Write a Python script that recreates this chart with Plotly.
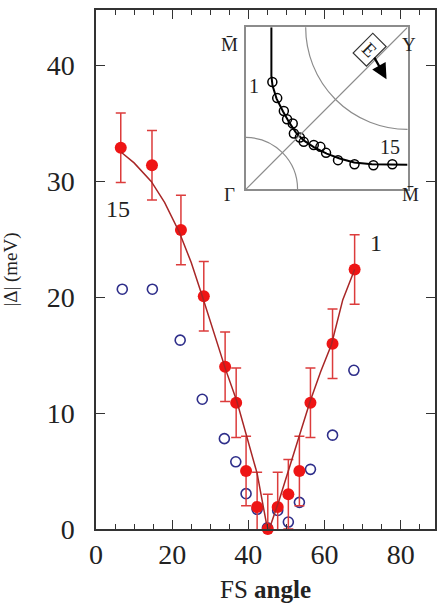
import plotly.graph_objects as go

# main panel: gap magnitude vs Fermi-surface angle (points 15 -> 1 from left to right)
fs_angle = [6.5, 14.7, 22.3, 28.3, 33.9, 36.8, 39.4, 42.3, 45.1, 47.7, 50.5, 53.4, 56.3, 62.1, 67.9]
gap = [32.9, 31.4, 25.8, 20.1, 14.0, 10.9, 5.0, 1.9, 0.0, 1.9, 3.0, 5.0, 10.9, 16.0, 22.4]
gap_err = [3, 3, 3, 3, 3, 3, 3, 3, 3, 3, 3, 3, 3, 3, 3]

open_angle = [6.9, 14.8, 22.1, 27.9, 33.7, 36.7, 39.4, 42.3, 45.0, 47.7, 50.5, 53.4, 56.3, 62.1, 67.7]
open_gap = [20.7, 20.7, 16.3, 11.2, 7.8, 5.8, 3.05, 1.7, 0.1, 1.6, 0.6, 2.3, 5.15, 8.1, 13.7]

# fitted curve
fit_angle = [6.7, 10, 14.5, 18, 21.9, 25, 28, 31, 34, 37, 40, 42.3, 44.9, 45.5, 48, 50.3, 53, 56.2, 59, 61.8, 64.8, 67.9]
fit_gap = [32.5, 31.6, 30.0, 28.2, 25.6, 23.0, 20.0, 16.9, 13.8, 11.0, 7.6, 4.8, 0.2, 0.0, 2.4, 4.8, 7.6, 11.0, 13.6, 15.9, 19.8, 22.4]

# inset: Fermi surface in the quadrant, normalised to [0, 1]
fs_u = [0.164, 0.194, 0.235, 0.255, 0.290, 0.297, 0.334, 0.358, 0.420, 0.461, 0.496, 0.570, 0.672, 0.789, 0.906]
fs_v = [0.662, 0.563, 0.483, 0.432, 0.406, 0.345, 0.320, 0.293, 0.273, 0.262, 0.225, 0.180, 0.155, 0.149, 0.155]
fs_line_u = [0.158, 0.158, 0.165, 0.19, 0.23, 0.27, 0.31, 0.36, 0.42, 0.50, 0.58, 0.67, 0.78, 0.90, 1.0]
fs_line_v = [1.0, 0.70, 0.64, 0.56, 0.48, 0.41, 0.35, 0.30, 0.26, 0.22, 0.19, 0.165, 0.155, 0.152, 0.152]

serif = "Liberation Serif, Times New Roman, serif"
red = "#ee1515"
ink = "#222222"

fig = go.Figure()
fig.add_trace(go.Scatter(
    x=open_angle, y=open_gap, mode="markers",
    marker=dict(symbol="circle-open", size=10, color="#2e2e8a", line=dict(width=1.6)),
    showlegend=False, cliponaxis=False,
))
fig.add_trace(go.Scatter(
    x=fs_angle, y=gap, mode="markers",
    marker=dict(symbol="circle", size=12, color=red),
    error_y=dict(type="data", array=gap_err, color="#dc3c3c", thickness=1.5, width=5),
    showlegend=False, cliponaxis=False,
))
fig.add_trace(go.Scatter(
    x=fit_angle, y=fit_gap, mode="lines",
    line=dict(color="#a82626", width=1.5),
    showlegend=False,
))

# inset traces
fig.add_trace(go.Scatter(
    x=fs_line_u, y=fs_line_v, mode="lines", xaxis="x2", yaxis="y2",
    line=dict(color="black", width=2), showlegend=False,
))
fig.add_trace(go.Scatter(
    x=fs_u, y=fs_v, mode="markers", xaxis="x2", yaxis="y2",
    marker=dict(symbol="circle-open", size=9, color="black", line=dict(width=1.5)),
    showlegend=False,
))

gray = "#8c8c8c"
shapes = [
    dict(type="line", xref="x2", yref="y2", x0=0, y0=0, x1=1, y1=1, line=dict(color=gray, width=1.2)),
    dict(type="circle", xref="x2", yref="y2", x0=0.37, y0=0.37, x1=1.63, y1=1.63, line=dict(color=gray, width=1.2)),
    dict(type="circle", xref="x2", yref="y2", x0=-0.32, y0=-0.32, x1=0.32, y1=0.32, line=dict(color=gray, width=1.2)),
]

lab = dict(size=24, family=serif, color=ink)
ins = dict(size=20, family=serif, color=ink)
corner = dict(size=19, family=serif, color=ink)
annotations = [
    dict(x=5.7, y=27.6, text="15", showarrow=False, font=lab),
    dict(x=73.4, y=24.7, text="1", showarrow=False, font=lab),
    dict(x=0.05, y=0.64, xref="x2", yref="y2", text="1", showarrow=False, font=ins),
    dict(x=0.89, y=0.26, xref="x2", yref="y2", text="15", showarrow=False, font=ins),
    dict(x=0.393, y=0.958, xref="paper", yref="paper", text="M\u0304", showarrow=False, font=corner),
    dict(x=0.950, y=0.958, xref="paper", yref="paper", text="Y", showarrow=False, font=corner),
    dict(x=0.393, y=0.645, xref="paper", yref="paper", text="\u0393", showarrow=False, font=corner),
    dict(x=0.958, y=0.645, xref="paper", yref="paper", text="M\u0304", showarrow=False, font=corner),
    dict(x=0.87, y=0.68, xref="x2", yref="y2", ax=0.765, ay=0.865, axref="x2", ayref="y2",
         text="E", textangle=45, showarrow=True, arrowhead=2, arrowsize=1.4, arrowwidth=2.2, arrowcolor="black",
         bordercolor="#333", borderwidth=1.2, borderpad=3, bgcolor="white",
         font=dict(size=19, family=serif, color=ink)),
]

fig.update_layout(
    width=438, height=613,
    margin=dict(l=96, r=1, t=10, b=84),
    plot_bgcolor="white", paper_bgcolor="white",
    font=dict(family=serif, color=ink),
    xaxis=dict(
        range=[0, 89], tickvals=[0, 20, 40, 60, 80], ticks="inside", ticklen=9, tickwidth=1.2,
        tickcolor="#333", showline=True, linecolor="#333", linewidth=1.5, mirror="ticks",
        showgrid=False, zeroline=False, tickfont=dict(size=28, family=serif),
        minor=dict(dtick=5, ticks="inside", ticklen=5, tickcolor="#333"),
        title=dict(text="FS <b>angle</b>", font=dict(size=25, family=serif), standoff=11),
    ),
    yaxis=dict(
        range=[0, 44.8], tickvals=[0, 10, 20, 30, 40], ticks="inside", ticklen=9, tickwidth=1.2,
        tickcolor="#333", showline=True, linecolor="#333", linewidth=1.5, mirror="ticks",
        showgrid=False, zeroline=False, tickfont=dict(size=28, family=serif), ticklabelstandoff=14,
        title=dict(text="|\u0394| (meV)", font=dict(size=19, family=serif), standoff=26),
    ),
    xaxis2=dict(
        domain=[0.442, 0.919], anchor="y2", range=[0, 1], showline=True, linecolor=gray, linewidth=1.5,
        mirror=True, showticklabels=False, ticks="", showgrid=False, zeroline=False,
    ),
    yaxis2=dict(
        domain=[0.6545, 0.9667], anchor="x2", range=[0, 1], showline=True, linecolor=gray, linewidth=1.5,
        mirror=True, showticklabels=False, ticks="", showgrid=False, zeroline=False,
    ),
    shapes=shapes,
    annotations=annotations,
)

# page default margin would shift the figure by 8px
fig.write_html(
    "out.html",
    config={"displayModeBar": False},
    post_script="document.body.style.margin='0';document.body.style.overflow='hidden';",
)
